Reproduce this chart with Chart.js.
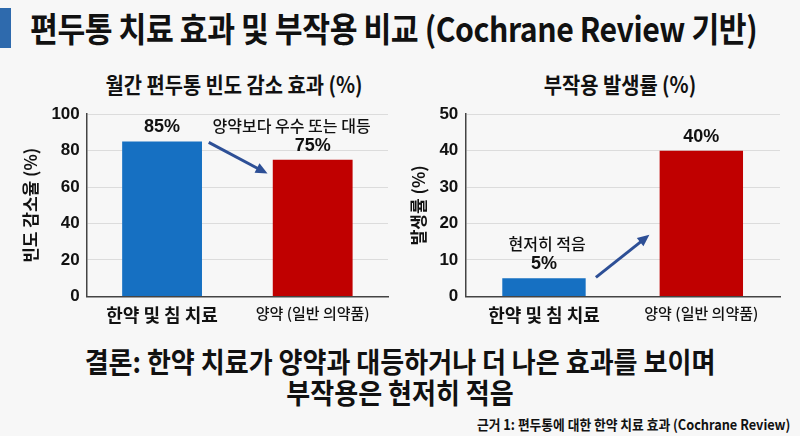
<!DOCTYPE html>
<html>
<head>
<meta charset="utf-8">
<script src="https://cdn.jsdelivr.net/npm/chart.js@4.4.1/dist/chart.umd.min.js"></script>
<style>
  html, body { margin: 0; padding: 0; }
  body {
    width: 800px; height: 436px; background: #f7f7f7; position: relative; overflow: hidden;
    font-family: "Noto Sans CJK KR", "Noto Sans", sans-serif; color: #111;
  }
  .accent { position: absolute; left: 0; top: 8px; width: 11px; height: 40px; background: #2e6aad; }
  .title {
    position: absolute; left: 30px; top: 3px; font-size: 34px; font-weight: 700; white-space: nowrap;
    transform-origin: left top; transform: scaleX(0.89); letter-spacing: -0.5px;
  }
  .ctitle {
    position: absolute; top: 67px; font-size: 22px; font-weight: 700; white-space: nowrap;
    transform: translateX(-50%) scaleX(0.9);
  }
  .box { position: absolute; }
  .concl {
    position: absolute; left: 0; width: 800px; text-align: center; top: 346px;
    font-size: 28px; font-weight: 700; line-height: 31px; transform: scaleX(0.93);
  }
  .src {
    position: absolute; right: 10px; top: 414px; font-size: 14px; font-weight: 700; white-space: nowrap;
    transform-origin: right top; transform: scaleX(0.91);
  }
</style>
</head>
<body>
<div class="accent"></div>
<div class="title">편두통 치료 효과 및 부작용 비교 (Cochrane Review 기반)</div>
<div class="ctitle" style="left:234px">월간 편두통 빈도 감소 효과 (%)</div>
<div class="ctitle" style="left:620px">부작용 발생률 (%)</div>
<div class="box" style="left:16px; top:97px; width:376px; height:229px"><canvas id="c1"></canvas></div>
<div class="box" style="left:404px; top:97px; width:380px; height:229px"><canvas id="c2"></canvas></div>
<div class="concl">결론: 한약 치료가 양약과 대등하거나 더 나은 효과를 보이며<br>부작용은 현저히 적음</div>
<div class="src">근거 1: 편두통에 대한 한약 치료 효과 (Cochrane Review)</div>

<script>
const categories = ['한약 및 침 치료', '양약 (일반 의약품)'];
const efficacyValues = [85, 75];
const sideEffectValues = [5, 40];
const barColors = ['#1670c2', '#c00000'];

// annotation text + arrows, in data units (x = category index, y = value)
const efficacyNote = {text: '양약보다 우수 또는 대등', x: 0.86, y: 93.5};
const efficacyArrow = {from: [0.31, 84.5], to: [0.70, 67.4]};
const sideNote = {text: '현저히 적음', x: 0.02, y: 14.5};
const sideArrow = {from: [0.33, 5.2], to: [0.67, 16.9]};

const FONT = '"Noto Sans CJK KR", "Noto Sans", sans-serif';
const NUMFONT = '"Liberation Sans", Arial, sans-serif';

const valueLabels = {
  id: 'valueLabels',
  afterDatasetsDraw(chart) {
    const {ctx} = chart;
    const meta = chart.getDatasetMeta(0);
    ctx.save();
    ctx.fillStyle = '#111';
    ctx.font = 'bold 18px ' + NUMFONT;
    ctx.textAlign = 'center';
    ctx.textBaseline = 'bottom';
    meta.data.forEach((bar, i) => {
      ctx.fillText(chart.data.datasets[0].data[i] + '%', bar.x, bar.y - 5);
    });
    ctx.restore();
  }
};

const notes = {
  id: 'notes',
  afterDatasetsDraw(chart, args, opts) {
    const {ctx, scales: {x, y}} = chart;
    ctx.save();
    ctx.fillStyle = '#111';
    ctx.font = '500 16px ' + FONT;
    ctx.textAlign = 'center';
    ctx.textBaseline = 'middle';
    ctx.fillText(opts.note.text, x.getPixelForValue(opts.note.x), y.getPixelForValue(opts.note.y));

    const x1 = x.getPixelForValue(opts.arrow.from[0]), y1 = y.getPixelForValue(opts.arrow.from[1]);
    const x2 = x.getPixelForValue(opts.arrow.to[0]), y2 = y.getPixelForValue(opts.arrow.to[1]);
    const ang = Math.atan2(y2 - y1, x2 - x1);
    const head = 13;
    ctx.strokeStyle = '#2d4f96';
    ctx.fillStyle = '#2d4f96';
    ctx.lineWidth = 3;
    ctx.beginPath();
    ctx.moveTo(x1, y1);
    ctx.lineTo(x2 - Math.cos(ang) * head * 0.8, y2 - Math.sin(ang) * head * 0.8);
    ctx.stroke();
    ctx.beginPath();
    ctx.moveTo(x2, y2);
    ctx.lineTo(x2 - head * Math.cos(ang - 0.42), y2 - head * Math.sin(ang - 0.42));
    ctx.lineTo(x2 - head * Math.cos(ang + 0.42), y2 - head * Math.sin(ang + 0.42));
    ctx.closePath();
    ctx.fill();
    ctx.restore();
  }
};

function makeChart(id, values, max, step, axisTitle, note, arrow) {
  return new Chart(document.getElementById(id), {
    type: 'bar',
    data: {
      labels: categories,
      datasets: [{data: values, backgroundColor: barColors, barPercentage: 0.53, categoryPercentage: 1}]
    },
    options: {
      responsive: true,
      maintainAspectRatio: false,
      animation: false,
      layout: {padding: {top: 9, right: 4}},
      scales: {
        x: {
          grid: {display: false},
          border: {color: '#444', width: 1.5},
          ticks: {
            color: '#111',
            padding: 0,
            font: c => c.index === 0
              ? {family: FONT, size: 18, weight: 'bold'}
              : {family: FONT, size: 15, weight: '500'}
          }
        },
        y: {
          min: 0, max: max,
          ticks: {stepSize: step, color: '#111', padding: 7, font: {family: NUMFONT, size: 17, weight: 'bold'}},
          grid: {color: '#dcdcdc', drawTicks: false},
          border: {display: true, color: '#444', width: 1.5},
          title: {display: true, text: axisTitle, color: '#111', font: {family: FONT, size: 17, weight: 'bold'}, padding: 4}
        }
      },
      plugins: {
        legend: {display: false},
        tooltip: {enabled: false},
        notes: {note: note, arrow: arrow}
      }
    },
    plugins: [valueLabels, notes]
  });
}

makeChart('c1', efficacyValues, 100, 20, '빈도 감소율 (%)', efficacyNote, efficacyArrow);
makeChart('c2', sideEffectValues, 50, 10, '발생률 (%)', sideNote, sideArrow);
</script>
</body>
</html>
